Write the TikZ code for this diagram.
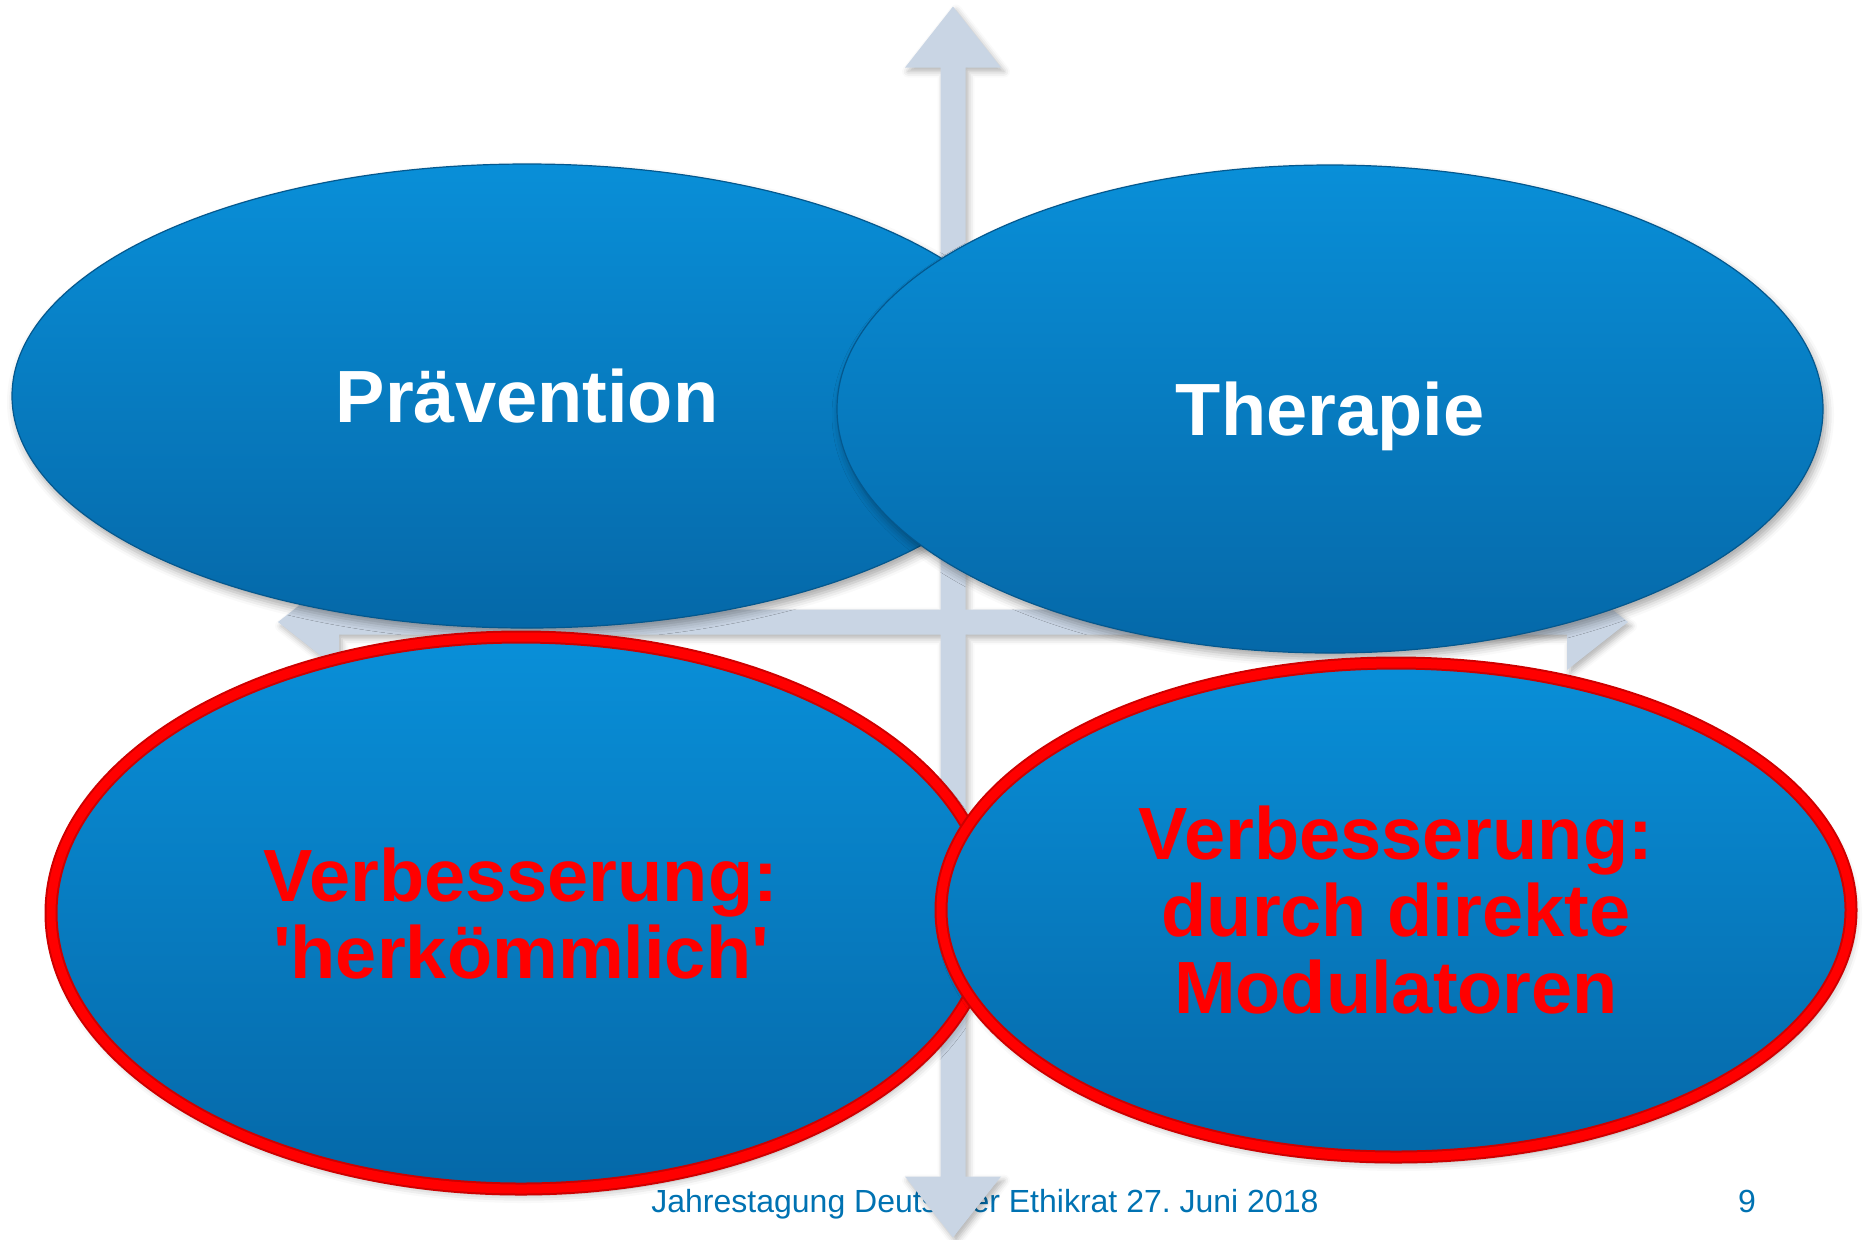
\documentclass[tikz,border=0pt]{standalone}
\usepackage{fontspec}
\setmainfont{Liberation Sans}
\usetikzlibrary{shapes.geometric,shadows.blur}
\definecolor{ellhi}{RGB}{9,143,216}
\definecolor{elllo}{RGB}{5,104,168}
\definecolor{ellrim}{RGB}{4,88,142}
\definecolor{axisgray}{RGB}{201,213,228}
\definecolor{footblue}{RGB}{0,114,178}
\definecolor{rimred}{RGB}{205,0,0}
\tikzset{ellbase/.style={ellipse, inner sep=0pt, text depth=0pt, top color=ellhi, bottom color=elllo,
		text=white, align=center, font=\fontsize{37}{38.5}\selectfont\bfseries,
		blur shadow={shadow xshift=1.5pt, shadow yshift=-3pt, shadow blur radius=4pt, shadow opacity=35}},
	topell/.style={ellbase, draw=ellrim, line width=0.6pt},
	redell/.style={ellbase, text=red, draw=rimred, line width=6.5pt, postaction={draw=red, line width=4.5pt}},
	footer/.style={inner sep=0pt, text=footblue, font=\fontsize{16}{18}\selectfont},
	quadarrow/.style={fill=axisgray, blur shadow={shadow xshift=1.5pt, shadow yshift=-2pt, shadow blur radius=3pt, shadow opacity=30}}}

\begin{document}
\begin{tikzpicture}[x=0.5pt,y=-0.5pt]
	\useasboundingbox (0,0) rectangle (1864,1239);
	\node[footer, anchor=base west](foot)at(651,1212){Jahrestagung Deutscher Ethikrat 27.\ Juni 2018};
	\node[footer, anchor=base](pgno)at(1747,1212){9};
	
	\coordinate(ctr)at(953,622);
	\fill[quadarrow, shift={(ctr)}](675,0)--(614,48)--(614,12.5)--(12.5,12.5)--(12.5,554.5)--(48,554.5)
	--(0,615.5)--(-48,554.5)--(-12.5,554.5)--(-12.5,12.5)--(-614,12.5)--(-614,48)
	--(-675,0)--(-614,-48)--(-614,-12.5)--(-12.5,-12.5)--(-12.5,-554.5)--(-48,-554.5)
	--(0,-615.5)--(48,-554.5)--(12.5,-554.5)--(12.5,-12.5)--(614,-12.5)--(614,-48)--cycle;
	
	\node[topell, minimum width=515pt, minimum height=232pt](prae)at(527,396){Prävention};
	\node[topell, minimum width=493pt, minimum height=244pt](ther)at(1330,409){Therapie};
	\node[redell, minimum width=470pt, minimum height=276pt](herk)at(521,913){Verbesserung:\\\textquotesingle herkömmlich\textquotesingle};
	\node[redell, minimum width=455pt, minimum height=247pt](modu)at(1396,910){Verbesserung:\\durch direkte\\Modulatoren};
\end{tikzpicture}
\end{document}
